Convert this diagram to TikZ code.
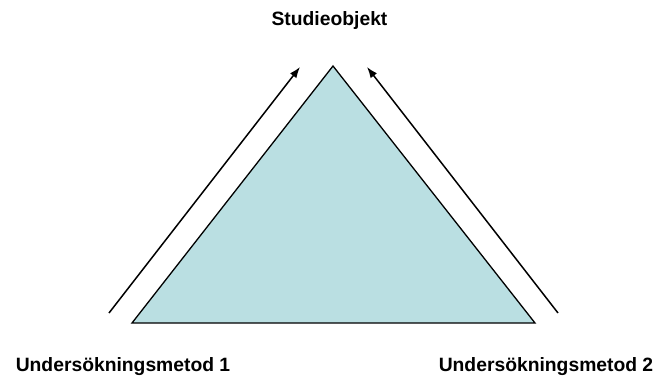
\documentclass[tikz,border=0pt]{standalone}
\usepackage{fontspec}
\setmainfont{Liberation Sans}
\usetikzlibrary{arrows.meta}
\definecolor{triblue}{RGB}{186,223,226}

\begin{document}
\begin{tikzpicture}[x=1pt, y=1pt, auto]
        \useasboundingbox (0,0) rectangle (658,378);
        \tikzset{label/.style={anchor=base, font=\fontsize{19.3}{23}\selectfont\bfseries}}

        \coordinate (Top) at (333,312);
        \coordinate (Left) at (132,55);
        \coordinate (Right) at (535,55);
        \coordinate (LeftStart) at (109,65);
        \coordinate (LeftEnd) at (300,311);
        \coordinate (RightStart) at (558,65);
        \coordinate (RightEnd) at (367,311);

        \node (Objekt) [label] at (329.5,352) {Studieobjekt};
        \node (Metod1) [label] at (123,7) {Undersökningsmetod 1};
        \node (Metod2) [label] at (546,7) {Undersökningsmetod 2};

        \draw [fill=triblue, line width=1.3pt, line join=miter] (Top) -- (Left) -- (Right) -- cycle;

        \draw [line width=1.5pt, -{Latex[length=11pt,width=8pt]}] (LeftStart) -- (LeftEnd);
        \draw [line width=1.5pt, -{Latex[length=11pt,width=8pt]}] (RightStart) -- (RightEnd);
      \end{tikzpicture}
\end{document}
